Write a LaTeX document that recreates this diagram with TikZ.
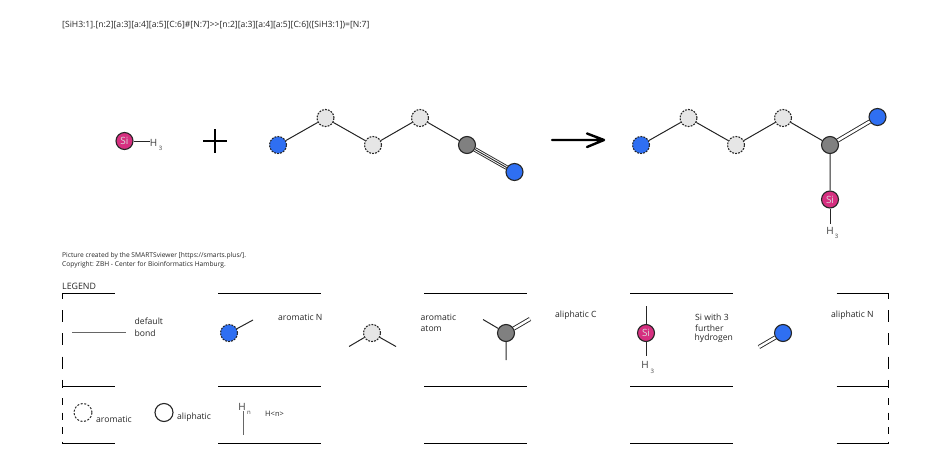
\documentclass[tikz,border=0pt]{standalone}
\usepackage{fontspec}
\setmainfont{Open Sans}
\tikzset{
  atom/.style={circle,draw=black!85,line width=1.1pt,minimum size=17pt,inner sep=0pt},
  arom/.style={atom,dash pattern=on 1.8pt off 1.2pt},
  alip/.style={atom},
  nblue/.style={fill=nblueC},
  agrey/.style={fill=agreeC},
  cgrey/.style={fill=cgreyC},
  siatom/.style={atom,fill=sipink,text=white!85!black,font=\fontsize{10}{10}\selectfont},
  bond/.style={line width=1pt,draw=black!85},
  dbond/.style={line width=.9pt,draw=black!85,double=white,double distance=2.4pt},
  lab/.style={inner sep=0pt,anchor=west,yshift=-.6pt,text=black!85,font=\fontsize{8.6}{8.6}\selectfont},
  smalllab/.style={lab,font=\fontsize{6.65}{6.65}\selectfont},
  hatom/.style={inner sep=0pt,text=black!75,font=\fontsize{10}{10}\selectfont},
  hsub/.style={inner sep=0pt,text=black!75,font=\fontsize{6}{6}\selectfont},
  frame/.style={line width=1pt,draw=black},
  greybond/.style={line width=1.2pt,draw=black!60},
}
\definecolor{nblueC}{HTML}{2F6FF2}
\definecolor{agreeC}{HTML}{E6E6E6}
\definecolor{cgreyC}{HTML}{808080}
\definecolor{sipink}{HTML}{D62F80}
\begin{document}
\begin{tikzpicture}[x=1pt,y=-1pt]
\useasboundingbox (0,0) rectangle (944,460);
% header
\node[lab] (smarts) at (62,24.5) {[SiH3:1].[n:2][a:3][a:4][a:5][C:6]\#[N:7]{>}{>}[n:2][a:3][a:4][a:5][C:6]([SiH3:1])=[N:7]};
% reactant 1
\node[siatom] (si1) at (124.5,141) {Si};
\node[hatom] (h1) at (153.5,143) {H};
\node[hsub] (h1s) at (160.7,148) {3};
\draw[bond] (si1.east) -- (h1.west |- si1.east);
% plus
\draw[line width=2.4pt] (203,141) -- (227,141) (215,129) -- (215,152.5);
% reactant 2
\node[arom,nblue] (a1) at (278,145) {};
\node[arom,agrey] (a2) at (325.5,118) {};
\node[arom,agrey] (a3) at (373,145) {};
\node[arom,agrey] (a4) at (420,118) {};
\node[alip,cgrey] (a5) at (467,145) {};
\node[alip,nblue] (a6) at (514.5,172) {};
\draw[bond] (a1)--(a2) (a2)--(a3) (a3)--(a4) (a4)--(a5);
\draw[line width=.9pt,draw=black!85,double=white,double distance=2.8pt] (a5)--(a6);
\draw[line width=.9pt,draw=black!85] (a5)--(a6);
% arrow
\coordinate (arrs) at (552,140);
\coordinate (arre) at (604,140);
\coordinate (arrt) at (587,133.5);
\coordinate (arrb) at (587,147);
\draw[line width=2.4pt,line cap=round,line join=round] (arrs) -- (arre) (arrt) -- (arre) -- (arrb);
% product
\node[arom,nblue] (b1) at (641,145) {};
\node[arom,agrey] (b2) at (688.5,118) {};
\node[arom,agrey] (b3) at (736,145) {};
\node[arom,agrey] (b4) at (783,118) {};
\node[alip,cgrey] (b5) at (830,145) {};
\node[alip,nblue] (b6) at (877.5,117) {};
\node[siatom] (b7) at (830,199.5) {Si};
\node[hatom] (b8) at (830,231) {H};
\node[hsub] (b8s) at (836.5,236.7) {3};
\draw[bond] (b1)--(b2) (b2)--(b3) (b3)--(b4) (b4)--(b5) (b5)--(b7);
\draw[bond,shorten >=3pt] (b7)--(b8);
\draw[dbond] (b5)--(b6);
% credit
\node[smalllab] (cr1) at (62,255.5) {Picture created by the SMARTSviewer [https://smarts.plus/].};
\node[smalllab] (cr2) at (62,264) {Copyright: ZBH - Center for Bioinformatics Hamburg.};
\node[lab,font=\fontsize{8.8}{8.8}\selectfont] (legend) at (62,285.5) {LEGEND};
% legend frame
\foreach \y in {293.3,386,443.7}{
  \draw[frame] (62.2,\y) -- (114.5,\y);
  \draw[frame] (218,\y) -- (321,\y);
  \draw[frame] (424,\y) -- (527,\y);
  \draw[frame] (630,\y) -- (733,\y);
  \draw[frame] (836.7,\y) -- (888.5,\y);
}
\foreach \x in {62.7,888}{
  \draw[frame] (\x,293.3) -- (\x,298.5);
  \draw[frame,dash pattern=on 12pt off 11.3pt] (\x,310) -- (\x,386);
  \draw[frame] (\x,381) -- (\x,388);
  \draw[frame,dash pattern=on 7pt off 7.5pt] (\x,398) -- (\x,443.7);
}
% default bond
\coordinate (l1a) at (72,332.5);
\coordinate (l1b) at (126,332.5);
\draw[greybond] (l1a) -- (l1b);
\node[lab] (t1) at (134.5,321) {default};
\node[lab] (t1b) at (134.5,332.5) {bond};
% aromatic N
\node[arom,nblue] (l2) at (229,333) {};
\coordinate (l2e) at (253,320);
\draw[bond] (l2) -- (l2e);
\node[lab] (t2) at (278,316.5) {aromatic N};
% aromatic atom
\node[arom,agrey] (l3) at (372,333) {};
\coordinate (l3a) at (349,346.5);
\coordinate (l3b) at (396,346.5);
\draw[bond] (l3) -- (l3a) (l3) -- (l3b);
\node[lab] (t3) at (420.5,316.5) {aromatic};
\node[lab] (t3b) at (420.5,328) {atom};
% aliphatic C
\node[alip,cgrey] (l4) at (506,333) {};
\coordinate (l4a) at (483,319.5);
\coordinate (l4b) at (506,360);
\coordinate (l4c) at (530,319);
\draw[bond] (l4) -- (l4a) (l4) -- (l4b);
\draw[dbond] (l4) -- (l4c);
\node[lab] (t4) at (555,315) {aliphatic C};
% Si
\node[siatom] (l5) at (646,333) {Si};
\coordinate (l5a) at (646,306);
\coordinate (l5b) at (646,356);
\node[hatom] (l5h) at (645,365) {H};
\node[hsub] (l5s) at (652.3,371) {3};
\draw[bond] (l5) -- (l5a);
\draw[bond] (l5) -- (l5b);
\node[lab] (t5) at (695,316.5) {Si with 3};
\node[lab] (t5b) at (695,328) {further};
\node[lab] (t5c) at (694.5,337.5) {hydrogen};
% aliphatic N
\node[alip,nblue] (l6) at (783,333) {};
\coordinate (l6e) at (759,347);
\draw[dbond] (l6) -- (l6e);
\node[lab] (t6) at (831,315) {aliphatic N};
% bottom row
\node[arom,minimum size=18pt,line width=1pt,dash pattern=on 2pt off 1.6pt] (k1) at (83,412.5) {};
\node[lab] (k1t) at (96,418.5) {aromatic};
\node[alip,minimum size=18pt] (k2) at (164,412.5) {};
\node[lab] (k2t) at (177,416.5) {aliphatic};
\node[hatom] (k3) at (242,407) {H};
\node[hsub] (k3s) at (249,412.5) {n};
\coordinate (k3e) at (243.5,435);
\draw[greybond] (k3.south -| k3e) -- (k3e);
\node[lab,font=\fontsize{7.5}{7.5}\selectfont] (k4) at (265,413) {H<n>};
\end{tikzpicture}
\end{document}
